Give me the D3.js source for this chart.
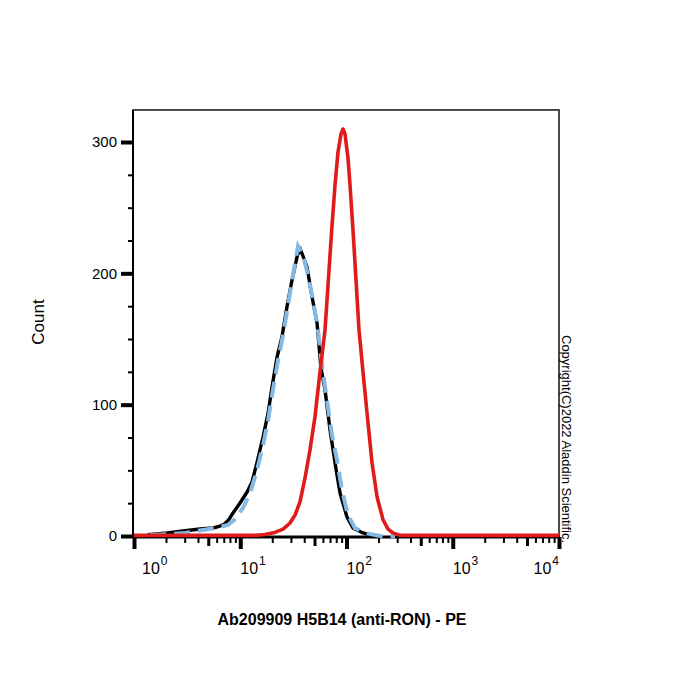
<!DOCTYPE html>
<html>
<head>
<meta charset="utf-8">
<script src="https://cdn.jsdelivr.net/npm/d3@7"></script>
<style>
  body { margin: 0; background: #fff; }
  svg { display: block; font-family: "Liberation Sans", Arial, sans-serif; }
</style>
</head>
<body>
<div id="chart"></div>
<script>
// fluorescence intensity (PE) vs. count
var blackX = [1.35, 2.05, 2.89, 4.18, 5.54, 6.45, 7.1, 7.8, 8.55, 9.95, 11.6, 12.9, 14.4, 16.4, 18.3, 19.9, 22.2, 24.7, 27.5, 30.7, 34.2, 36.5, 42.5, 47.4, 52.8, 57.5, 62.8, 70.0, 78.0, 86.9, 101, 115, 143, 178];
var blackY = [1, 2.3, 3.8, 5.3, 6.1, 7.6, 9.2, 12.4, 17.5, 25.1, 33.5, 41.1, 56.3, 75.4, 93.7, 113.5, 136.3, 151.5, 174.4, 194.9, 212.4, 219.3, 204.8, 182.0, 162.2, 128, 111.2, 80.7, 55.6, 32.7, 14.5, 6.1, 2.3, 0];

var blueX = [1.42, 2.18, 3.02, 4.46, 5.79, 7.67, 8.93, 10.6, 12.4, 14.4, 16.4, 18.3, 20.3, 22.7, 25.3, 28.2, 31.4, 35.0, 39.0, 43.4, 48.4, 53.9, 58.8, 65.5, 73.0, 81.4, 90.7, 103, 120, 149, 207, 286];
var blueY = [0.8, 1.5, 2.3, 4.6, 6.1, 8.4, 12.9, 21.3, 32.7, 50.3, 69.3, 88.3, 111.2, 134.0, 153.1, 175.9, 198.7, 220.8, 214.0, 198.7, 179.7, 156.9, 130.2, 103.6, 76.9, 57.9, 35.0, 16.0, 6.1, 2.3, 0, 0];

var redX = [1, 13.8, 17.1, 21.2, 25.3, 29.4, 32.8, 36.5, 40.7, 45.3, 50.5, 56.3, 62.8, 67.0, 72.6, 78.0, 83.2, 88.8, 92.7, 96.8, 103.3, 107.9, 115.1, 122.9, 131.1, 143, 156, 174, 194, 221, 246, 274, 319, 10000];
var redY = [0.5, 0.5, 1.1, 2.7, 5.3, 9.9, 16.0, 25.9, 44.2, 65.5, 90.6, 124.9, 156.9, 191.1, 233, 267.3, 292.4, 306.1, 309.9, 306.1, 287.8, 267.3, 233, 194.9, 156.9, 124.9, 93.7, 55.6, 29.7, 12.2, 5.3, 2.3, 0.5, 0.5];

var yMajor = [0, 100, 200, 300];
var yMinor = [25, 50, 75, 125, 150, 175, 225, 250, 275];
var xDecades = [1, 10, 100, 1000, 10000];
var xExponents = ['0', '1', '2', '3', '4'];

var width = 700, height = 700;
var yTop = 324.4;

var svg = d3.select('#chart').append('svg')
    .attr('width', width)
    .attr('height', height);

svg.append('rect').attr('width', width).attr('height', height).attr('fill', '#fff');

var x = d3.scaleLog().domain([1, 10000]).range([134, 559]);
var y = d3.scaleLinear().domain([0, 300]).range([536, 142]);

// frame
svg.append('rect')
    .attr('x', x(1) - 1)
    .attr('y', y(yTop))
    .attr('width', x(10000) - x(1) + 1)
    .attr('height', y(0) + 1 - y(yTop))
    .attr('fill', 'none')
    .attr('stroke', '#111')
    .attr('stroke-width', 1.5);

// minor x ticks: 2..9 in each decade, 5 is a bit heavier
var xMinor = [], xMid = [];
xDecades.slice(0, -1).forEach(function(d) {
    for (var k = 2; k <= 9; k++) {
        (k === 5 ? xMid : xMinor).push(d * k);
    }
});

var xBase = y(0) + 1;

function xTicks(values, size, w) {
    var g = svg.append('g')
        .attr('transform', 'translate(0,' + xBase + ')')
        .call(d3.axisBottom(x).tickValues(values).tickSize(size).tickFormat(''));
    g.select('.domain').remove();
    g.selectAll('.tick line').attr('stroke', '#000').attr('stroke-width', w);
    return g;
}
xTicks(xMinor, 6, 2);
xTicks(xMid, 9, 3);
xTicks(xDecades, 12, 4);

svg.append('line')
    .attr('x1', x(1) - 1).attr('x2', x(10000) + 1)
    .attr('y1', xBase).attr('y2', xBase)
    .attr('stroke', '#000').attr('stroke-width', 3);

// x labels 10^n
var xl = svg.append('g').selectAll('text')
    .data(xDecades).enter()
    .append('text')
    .attr('x', function(d, i) { return x(d) + (i === 0 ? 8 : 0); })
    .attr('y', 574)
    .attr('text-anchor', function(d, i) { return i === xDecades.length - 1 ? 'end' : 'start'; })
    .attr('font-size', 16)
    .attr('fill', '#000');
xl.append('tspan').text('10');
xl.append('tspan')
    .attr('dy', -9)
    .attr('dx', 1)
    .attr('font-size', 12)
    .text(function(d, i) { return xExponents[i]; });

// y axis
var yMinorG = svg.append('g')
    .attr('transform', 'translate(' + (x(1) - 1) + ',0)')
    .call(d3.axisLeft(y).tickValues(yMinor).tickSize(5).tickFormat(''));
yMinorG.select('.domain').remove();
yMinorG.selectAll('.tick line').attr('stroke', '#000').attr('stroke-width', 2);

var yMajorG = svg.append('g')
    .attr('transform', 'translate(' + (x(1) - 1) + ',0)')
    .call(d3.axisLeft(y).tickValues(yMajor).tickSize(12).tickPadding(4));
yMajorG.select('.domain').remove();
yMajorG.selectAll('.tick line').attr('stroke', '#000').attr('stroke-width', 4);
yMajorG.selectAll('.tick text')
    .attr('font-size', 15)
    .attr('font-family', '"Liberation Sans", Arial, sans-serif')
    .attr('fill', '#000');

svg.append('line')
    .attr('x1', x(1) - 1).attr('x2', x(1) - 1)
    .attr('y1', y(yTop)).attr('y2', xBase)
    .attr('stroke', '#000').attr('stroke-width', 2);

// curves
var line = d3.line()
    .x(function(d) { return x(d[0]); })
    .y(function(d) { return y(d[1]); });

function zip(a, b) { return a.map(function(v, i) { return [v, b[i]]; }); }

svg.append('path')
    .attr('d', line(zip(blackX, blackY)))
    .attr('fill', 'none')
    .attr('stroke', '#000')
    .attr('stroke-width', 3.4)
    .attr('stroke-linejoin', 'round');

svg.append('path')
    .attr('d', line(zip(blueX, blueY)))
    .attr('fill', 'none')
    .attr('stroke', '#84b9e4')
    .attr('stroke-width', 4)
    .attr('stroke-dasharray', '16,8');

svg.append('path')
    .attr('d', line(zip(redX, redY)))
    .attr('fill', 'none')
    .attr('stroke', '#e01b1b')
    .attr('stroke-width', 3.6)
    .attr('stroke-linejoin', 'round');

// titles
svg.append('text')
    .attr('x', 342)
    .attr('y', 625)
    .attr('text-anchor', 'middle')
    .attr('font-size', 16)
    .attr('font-weight', 'bold')
    .text('Ab209909 H5B14 (anti-RON) - PE');

svg.append('text')
    .attr('transform', 'translate(44,322) rotate(-90)')
    .attr('text-anchor', 'middle')
    .attr('font-size', 17)
    .text('Count');

svg.append('text')
    .attr('transform', 'translate(562,335) rotate(90)')
    .attr('font-size', 13)
    .text('Copyright(C)2022 Aladdin Scientific.');
</script>
</body>
</html>
